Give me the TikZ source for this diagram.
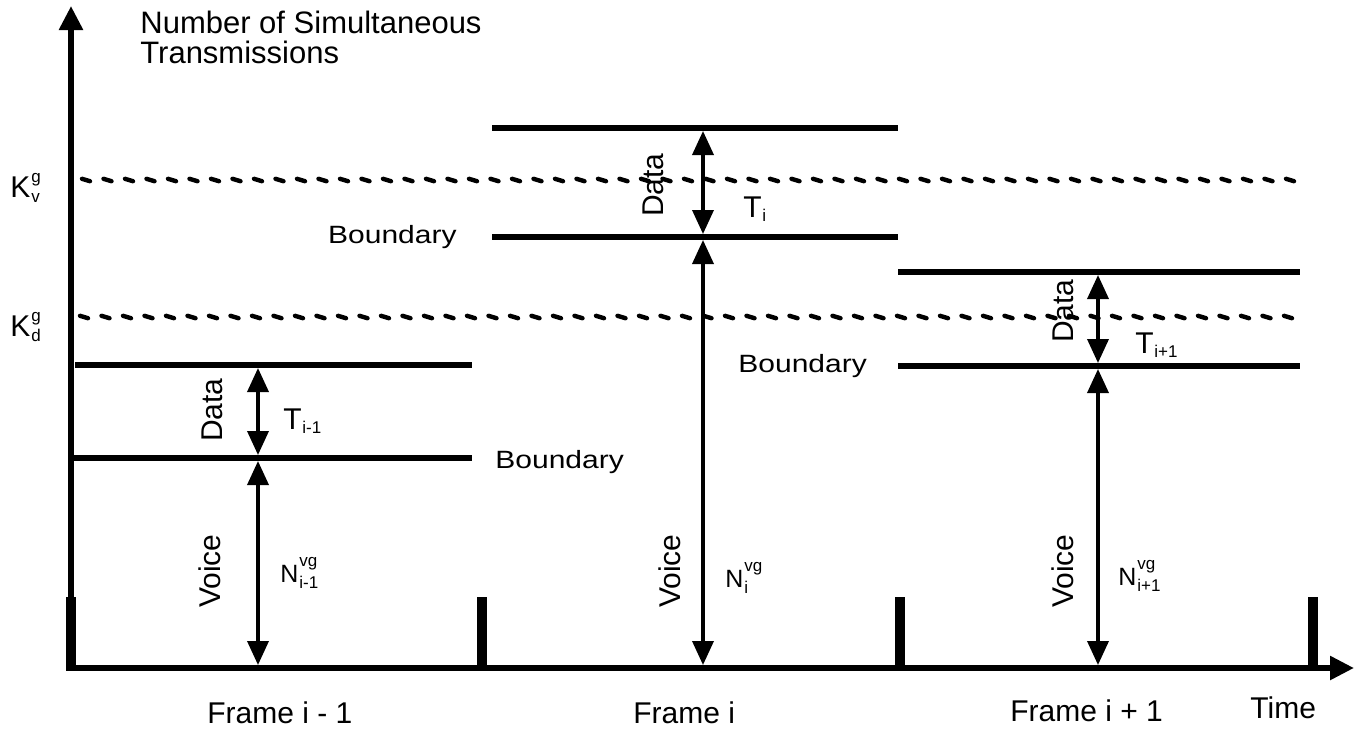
\documentclass[tikz,border=0pt]{standalone}
\usepackage{fontspec}
\setmainfont{Liberation Sans}
\newfontfamily\widefont{Liberation Sans}[FakeStretch=1.2]
\usetikzlibrary{arrows.meta}
% small index font
\newcommand\idxfont{\fontsize{8.5}{9}\selectfont}
% base letter with a subscript only
\newcommand\withsub[3]{#1\kern0.3pt\raisebox{-#3}{\idxfont #2}}
% base letter with stacked superscript and subscript
\newcommand\sbs[5]{#1\kern0.5pt\makebox[0pt][l]{\raisebox{#4}{\idxfont #2}}\raisebox{-#5}{\idxfont #3}}
\tikzset{
  lbl/.style={inner sep=0pt, font=\fontsize{15}{18}\selectfont},
  ttl/.style={inner sep=0pt, font=\fontsize{15.5}{18}\selectfont},
  nlbl/.style={inner sep=0pt, font=\fontsize{12.5}{15}\selectfont},
  bnd/.style={inner sep=0pt, font=\widefont\fontsize{12.5}{15}\selectfont},
  level/.style={line width=3pt},
  span/.style={line width=1.8pt, shorten <=1.5pt, shorten >=1.5pt,
    {Triangle[width=10.5pt,length=12pt]}-{Triangle[width=10.5pt,length=12pt]}},
  axis/.style={line width=2.8pt, -{Triangle[width=11.5pt,length=12pt]}},
  framemark/.style={line width=5pt},
  thr/.style={line width=2.2pt, line cap=round},
}
\begin{document}
\begin{tikzpicture}[x=0.5pt,y=-0.5pt]
\useasboundingbox (0,0) rectangle (1357,730);

% axes
\coordinate (O) at (71,668);
\coordinate (ytop) at (71,6);
\coordinate (xstart) at (68,668);
\coordinate (xend) at (1354,668);
\draw[axis] (O) -- (ytop);
\draw[axis] (xstart) -- (xend);

% frame boundaries on the time axis
\foreach \x/\n in {71/m0,482/m1,900/m2,1313/m3}{
  \coordinate (\n a) at (\x,597);
  \coordinate (\n b) at (\x,671);
  \draw[framemark] (\n a) -- (\n b);
}

% thresholds K_v^g and K_d^g
\foreach \i in {0,...,56}{
  \draw[thr] ({82+21.5*\i},178.8) -- ++(8,2.4);
  \draw[thr] ({80+21.5*\i},315.8) -- ++(8,2.4);
}

% levels of each frame
\coordinate (p1a) at (75,365);   \coordinate (p1b) at (472,365);
\coordinate (q1a) at (68,458);   \coordinate (q1b) at (472,458);
\coordinate (p2a) at (492,128);  \coordinate (p2b) at (898,128);
\coordinate (q2a) at (492,237);  \coordinate (q2b) at (898,237);
\coordinate (p3a) at (898,272);  \coordinate (p3b) at (1300,272);
\coordinate (q3a) at (898,366);  \coordinate (q3b) at (1300,366);
\foreach \n in {1,2,3}{
  \draw[level] (p\n a) -- (p\n b);
  \draw[level] (q\n a) -- (q\n b);
}

% data and voice spans
\coordinate (a1) at (258,365); \coordinate (b1) at (258,458); \coordinate (c1) at (258,668);
\coordinate (a2) at (703,128); \coordinate (b2) at (703,237); \coordinate (c2) at (703,668);
\coordinate (a3) at (1098,272); \coordinate (b3) at (1098,366); \coordinate (c3) at (1098,668);
\foreach \n in {1,2,3}{
  \draw[span] (a\n) -- (b\n);
  \draw[span] (b\n) -- (c\n);
}

% axis titles
\node[ttl, anchor=base west] (title1) at (140,33) {Number of Simultaneous};
\node[ttl, anchor=base west] (title2) at (140,63) {Transmissions};
\node[lbl, anchor=base west] (kv) at (10,197) {\sbs{K}{g}{v}{7.5pt}{2.5pt}};
\node[lbl, anchor=base west] (kd) at (10,336) {\sbs{K}{g}{d}{7.5pt}{2.5pt}};

% boundary labels
\node[bnd, anchor=base east] (bl2) at (457,243) {Boundary};
\node[bnd, anchor=base west] (bl1) at (495,468) {Boundary};
\node[bnd, anchor=base west] (bl3) at (738,372) {Boundary};

% rotated span labels
\node[lbl, rotate=90, anchor=base] (d1) at (222,410) {Data};
\node[lbl, rotate=90, anchor=base] (d2) at (663,185) {Data};
\node[lbl, rotate=90, anchor=base] (d3) at (1073,311) {Data};
\node[lbl, rotate=90, anchor=base] (v1) at (220,571) {Voice};
\node[lbl, rotate=90, anchor=base] (v2) at (680,571) {Voice};
\node[lbl, rotate=90, anchor=base] (v3) at (1073,571) {Voice};

% span values
\node[lbl, anchor=base west] (t1) at (283,429) {\withsub{T}{i-1}{2pt}};
\node[lbl, anchor=base west] (t2) at (743,217) {\withsub{T}{i}{2pt}};
\node[lbl, anchor=base west] (t3) at (1135,353) {\withsub{T}{i+1}{2pt}};
\node[nlbl, anchor=base west] (n1) at (280,582) {\sbs{N}{vg}{i-1}{8pt}{3pt}};
\node[nlbl, anchor=base west] (n2) at (725,587) {\sbs{N}{vg}{i}{8pt}{3pt}};
\node[nlbl, anchor=base west] (n3) at (1118,585) {\sbs{N}{vg}{i+1}{8pt}{3pt}};

% time axis labels
\node[lbl, anchor=base west] (f1) at (207,723) {Frame i - 1};
\node[lbl, anchor=base west] (f2) at (633,723) {Frame i};
\node[lbl, anchor=base west] (f3) at (1010,721) {Frame i + 1};
\node[lbl, anchor=base west] (time) at (1250,718) {Time};
\end{tikzpicture}
\end{document}
